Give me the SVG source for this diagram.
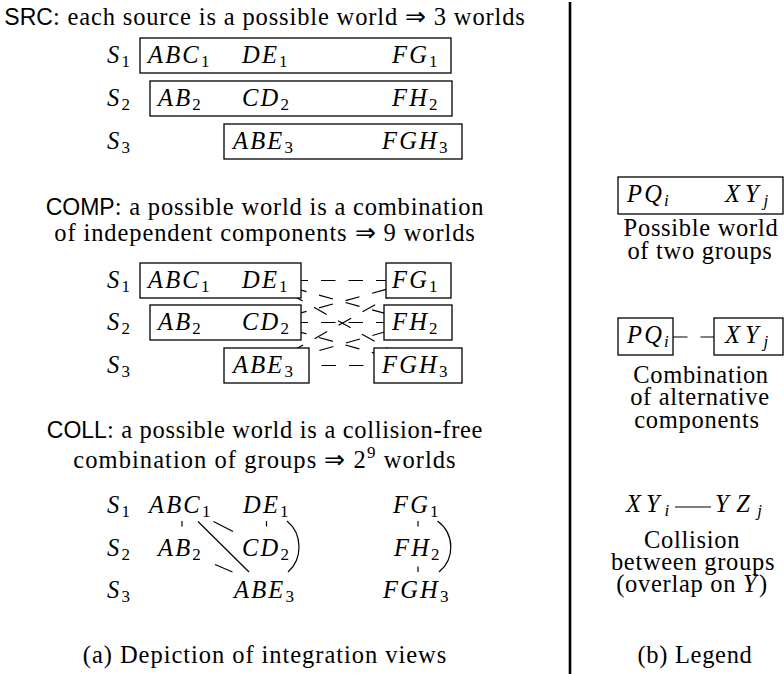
<svg xmlns="http://www.w3.org/2000/svg" width="784" height="674" viewBox="0 0 784 674">
<style>
text { font-family: "Liberation Serif", serif; font-size: 24.5px; fill: #000; letter-spacing: 0.7px; }
.sf { font-family: "Liberation Sans", sans-serif; font-size: 23px; letter-spacing: 0; }
.m { font-style: italic; letter-spacing: 2.2px; }
.lm { font-style: italic; letter-spacing: 5px; }
.sb { font-style: normal; font-size: 17px; }
.si { font-style: italic; font-size: 17px; }
.mid { text-anchor: middle; }
.box { fill: #fff; stroke: #000; stroke-width: 1.3; }
.dl { fill: none; stroke: #000; stroke-width: 1.2; stroke-dasharray: 14.5 13; }
.cl { fill: none; stroke: #000; stroke-width: 1.2; }
.sep { stroke: #000; stroke-width: 2.6; }
</style>
<rect x="0" y="0" width="784" height="674" fill="#fff"/>

<g id="connectors">
  <line class="dl" x1="266" y1="280.5" x2="418.5" y2="280.5"/>
  <line class="dl" x1="266" y1="280.5" x2="418" y2="322.5"/>
  <line class="dl" x1="266" y1="280.5" x2="418" y2="365.5"/>
  <line class="dl" x1="266" y1="322.5" x2="418.5" y2="280.5"/>
  <line class="dl" x1="266" y1="322.5" x2="418" y2="322.5"/>
  <line class="dl" x1="266" y1="322.5" x2="418" y2="365.5"/>
  <line class="dl" x1="266.5" y1="365.5" x2="418.5" y2="280.5"/>
  <line class="dl" x1="266.5" y1="365.5" x2="418" y2="322.5"/>
  <line class="dl" x1="266.5" y1="365.5" x2="418" y2="365.5"/>
  <path class="cl" d="M182 521 V526.5"/>
  <path class="cl" d="M266.5 521 V526.5"/>
  <path class="cl" d="M418 521 V526.5"/>
  <path class="cl" d="M418 566.5 V572"/>
  <path class="cl" d="M213.5 521.5 L233 531.5"/>
  <path class="cl" d="M198 521.5 L249 572"/>
  <path class="cl" d="M215 564.5 L232.5 572"/>
  <path class="cl" d="M287 521 C302.8 534 302.8 559 288 572"/>
  <path class="cl" d="M437.5 521 C455 534 455 559 439 572"/>
  <line class="dl" x1="645.5" y1="337" x2="748.5" y2="337"/>
  <path class="cl" d="M675 507 H711"/>
</g>

<line class="sep" x1="570" y1="2" x2="570" y2="674"/>

<g id="src-title">
  <text class="mid" x="265" y="25" style="letter-spacing:0.85px"><tspan class="sf">SRC</tspan>: each source is a possible world ⇒ 3 worlds</text>
</g>
<g id="src-s1">
  <text class="m" x="107" y="63">S<tspan class="sb" dy="4">1</tspan></text>
  <rect class="box" x="140" y="38" width="311" height="35"/>
  <text class="m" x="148" y="63">ABC<tspan class="sb" dy="4">1</tspan></text>
  <text class="m" x="242" y="63">DE<tspan class="sb" dy="4">1</tspan></text>
  <text class="m" x="392" y="63">FG<tspan class="sb" dy="4">1</tspan></text>
</g>
<g id="src-s2">
  <text class="m" x="107" y="106">S<tspan class="sb" dy="4">2</tspan></text>
  <rect class="box" x="150" y="81" width="302" height="35"/>
  <text class="m" x="158" y="106">AB<tspan class="sb" dy="4">2</tspan></text>
  <text class="m" x="242" y="106">CD<tspan class="sb" dy="4">2</tspan></text>
  <text class="m" x="392" y="106">FH<tspan class="sb" dy="4">2</tspan></text>
</g>
<g id="src-s3">
  <text class="m" x="107" y="149">S<tspan class="sb" dy="4">3</tspan></text>
  <rect class="box" x="224" y="124" width="238" height="35"/>
  <text class="m" x="233" y="149">ABE<tspan class="sb" dy="4">3</tspan></text>
  <text class="m" x="382" y="149">FGH<tspan class="sb" dy="4">3</tspan></text>
</g>

<g id="comp-title">
  <text class="mid" x="265" y="215" style="letter-spacing:0.8px"><tspan class="sf">COMP</tspan>: a possible world is a combination</text>
  <text class="mid" x="265" y="241" style="letter-spacing:0.9px">of independent components ⇒ 9 worlds</text>
</g>
<g id="comp-s1">
  <text class="m" x="107" y="288">S<tspan class="sb" dy="4">1</tspan></text>
  <rect class="box" x="140" y="263" width="161" height="35"/>
  <text class="m" x="148" y="288">ABC<tspan class="sb" dy="4">1</tspan></text>
  <text class="m" x="242" y="288">DE<tspan class="sb" dy="4">1</tspan></text>
</g>
<g id="comp-fg1">
  <rect class="box" x="386" y="263" width="65" height="35"/>
  <text class="m" x="392" y="288">FG<tspan class="sb" dy="4">1</tspan></text>
</g>
<g id="comp-s2">
  <text class="m" x="107" y="330">S<tspan class="sb" dy="4">2</tspan></text>
  <rect class="box" x="150" y="305" width="151" height="35"/>
  <text class="m" x="158" y="330">AB<tspan class="sb" dy="4">2</tspan></text>
  <text class="m" x="242" y="330">CD<tspan class="sb" dy="4">2</tspan></text>
</g>
<g id="comp-fh2">
  <rect class="box" x="384" y="305" width="68" height="35"/>
  <text class="m" x="392" y="330">FH<tspan class="sb" dy="4">2</tspan></text>
</g>
<g id="comp-s3">
  <text class="m" x="107" y="373">S<tspan class="sb" dy="4">3</tspan></text>
  <rect class="box" x="224" y="348" width="85" height="35"/>
  <text class="m" x="233" y="373">ABE<tspan class="sb" dy="4">3</tspan></text>
</g>
<g id="comp-fgh3">
  <rect class="box" x="374" y="348" width="88" height="35"/>
  <text class="m" x="382" y="373">FGH<tspan class="sb" dy="4">3</tspan></text>
</g>

<g id="coll-title">
  <text class="mid" x="265" y="438"><tspan class="sf">COLL</tspan>: a possible world is a collision-free</text>
  <text class="mid" x="265" y="468" style="letter-spacing:1.05px">combination of groups ⇒ 2<tspan font-size="17" dy="-10">9</tspan><tspan dy="10"> worlds</tspan></text>
</g>
<g id="coll-s1">
  <text class="m" x="107" y="513">S<tspan class="sb" dy="4">1</tspan></text>
  <text class="m" x="149" y="513">ABC<tspan class="sb" dy="4">1</tspan></text>
  <text class="m" x="243" y="513">DE<tspan class="sb" dy="4">1</tspan></text>
  <text class="m" x="393" y="513">FG<tspan class="sb" dy="4">1</tspan></text>
</g>
<g id="coll-s2">
  <text class="m" x="107" y="555.5">S<tspan class="sb" dy="4">2</tspan></text>
  <text class="m" x="158" y="555.5">AB<tspan class="sb" dy="4">2</tspan></text>
  <text class="m" x="242" y="555.5">CD<tspan class="sb" dy="4">2</tspan></text>
  <text class="m" x="394" y="555.5">FH<tspan class="sb" dy="4">2</tspan></text>
</g>
<g id="coll-s3">
  <text class="m" x="107" y="598">S<tspan class="sb" dy="4">3</tspan></text>
  <text class="m" x="234" y="598">ABE<tspan class="sb" dy="4">3</tspan></text>
  <text class="m" x="383" y="598">FGH<tspan class="sb" dy="4">3</tspan></text>
</g>
<g id="caption-a">
  <text class="mid" x="265" y="663" style="letter-spacing:0.95px">(a) Depiction of integration views</text>
</g>

<g id="legend-world">
  <rect class="box" x="618" y="177" width="165" height="37"/>
  <text class="m" x="627" y="202">PQ<tspan class="si" dy="4">i</tspan></text>
  <text class="lm" x="725" y="202">XY<tspan class="si" dy="4">j</tspan></text>
  <text class="mid" x="701" y="236">Possible world</text>
  <text class="mid" x="700" y="259">of two groups</text>
</g>
<g id="legend-pq">
  <rect class="box" x="618" y="318" width="55" height="37"/>
  <text class="m" x="627" y="343">PQ<tspan class="si" dy="4">i</tspan></text>
</g>
<g id="legend-xy">
  <rect class="box" x="714" y="318" width="69" height="37"/>
  <text class="lm" x="725" y="343">XY<tspan class="si" dy="4">j</tspan></text>
</g>
<g id="legend-comb-label">
  <text class="mid" x="701" y="383">Combination</text>
  <text class="mid" x="700" y="405">of alternative</text>
  <text class="mid" x="697" y="428">components</text>
</g>
<g id="legend-xyi">
  <text class="lm" x="626" y="512">XY<tspan class="si" dy="4">i</tspan></text>
</g>
<g id="legend-yzj">
  <text class="m" x="715" y="512" style="letter-spacing:7.5px">YZ<tspan class="si" dy="4">j</tspan></text>
</g>
<g id="legend-coll-label">
  <text class="mid" x="692" y="548">Collision</text>
  <text class="mid" x="693" y="570">between groups</text>
  <text class="mid" x="692" y="592">(overlap on <tspan class="m">Y</tspan>)</text>
</g>
<g id="caption-b">
  <text class="mid" x="695" y="663">(b) Legend</text>
</g>
</svg>
